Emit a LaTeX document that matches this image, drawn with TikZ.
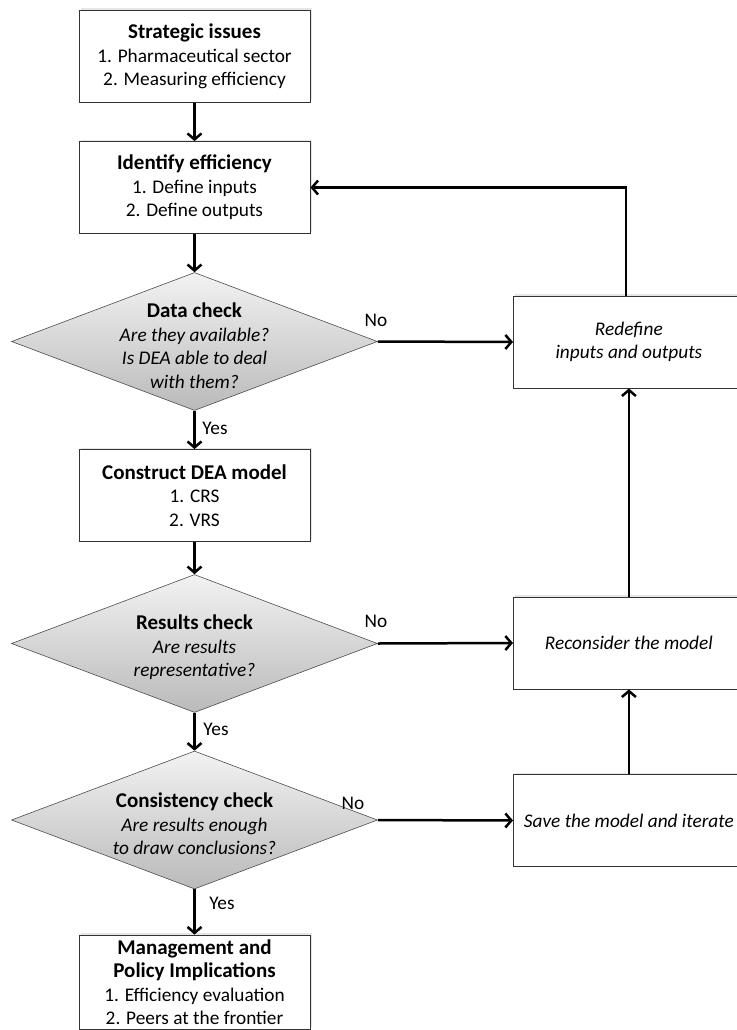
\documentclass[tikz,border=0pt]{standalone}
\usepackage{fontspec}
\setmainfont{Carlito}
\usetikzlibrary{shapes.geometric,arrows.meta,shadows}

\tikzset{
  box/.style={draw=black!80, line width=0.8pt, fill=white,
    minimum width=231pt, minimum height=92pt, inner sep=2pt, align=center,
    font=\fontsize{19.3}{23.5}\selectfont,
    drop shadow={shadow xshift=1.5pt, shadow yshift=2pt, opacity=0.2}},
  rbox/.style={box, minimum width=300pt, anchor=west},
  rtext/.style={align=center, font=\fontsize{19.3}{23.5}\selectfont\itshape, xshift=-34.5pt},
  check/.style={diamond, draw=black!70, line width=0.6pt,
    top color=black!5, bottom color=black!27,
    minimum width=366pt, minimum height=138pt, inner sep=0pt},
  checktext/.style={align=center, font=\fontsize{19.3}{23.5}\selectfont, inner sep=0pt, yshift=-4pt},
  flow/.style={line width=2.5pt, -{Straight Barb[length=6pt,width=14pt]}},
  lbl/.style={font=\fontsize{19.3}{23.5}\selectfont, inner sep=0pt}
}
\newcommand{\ttl}[1]{{\fontsize{21}{23.5}\selectfont\bfseries #1}}

\begin{document}
\begin{tikzpicture}[x=1pt,y=-1pt]
        \useasboundingbox (0,0) rectangle (736,1030);
        % left column
        \node[box] (strat) at (194.5,56.5) {\ttl{Strategic issues}\\1. Pharmaceutical sector\\2. Measuring efficiency};
        \node[box] (ident) at (194.5,187.5) {\ttl{Identify efficiency}\\1. Define inputs\\2. Define outputs};
        \node[check, label={[checktext]center:{\ttl{Data check}\\\itshape Are they available?\\\itshape Is DEA able to deal\\\itshape with them?}}] (data) at (194.5,341.5) {};
        \node[box] (constr) at (194.5,495.5) {\ttl{Construct DEA model}\\1. CRS\\2. VRS};
        \node[check, label={[checktext]center:{\ttl{Results check}\\\itshape Are results\\\itshape representative?}}] (res) at (194.5,643.5) {};
        \node[check, label={[checktext]center:{\ttl{Consistency check}\\\itshape Are results enough\\\itshape to draw conclusions?}}] (consist) at (194.5,820) {};
        \node[box, minimum height=94pt] (mgmt) at (194.5,982) {\ttl{Management and}\\\ttl{Policy Implications}\\1. Efficiency evaluation\\2. Peers at the frontier};
        % right column (cut by the right margin)
        \node[rbox, label={[rtext]center:{Redefine\\inputs and outputs}}] (redef) at (513,342) {};
        \node[rbox, label={[rtext]center:{Reconsider the model}}] (recons) at (513,643) {};
        \node[rbox, label={[rtext]center:{Save the model and iterate}}] (save) at (513,820.5) {};
        % main flow
        \draw[flow] (strat) -- (ident);
        \draw[flow] (ident) -- (data);
        \draw[flow] (data) -- (constr);
        \draw[flow] (constr) -- (res);
        \draw[flow] (res) -- (consist);
        \draw[flow] (consist) -- (mgmt);
        % feedback
        \draw[flow] (data.east) -- (redef.west);
        \draw[flow] (res.east) -- (recons.west);
        \draw[flow] (consist.east) -- (save.west);
        \draw[flow] ([xshift=-34.5pt]save.north) -- ([xshift=-34.5pt]recons.south);
        \draw[flow] ([xshift=-34.5pt]recons.north) -- ([xshift=-34.5pt]redef.south);
        \draw[flow] ([xshift=-37.5pt]redef.north) |- (ident.east);
        %  labels
        \node[lbl] (no1) at (376,320) {No};
        \node[lbl] (yes1) at (215,428) {Yes};
        \node[lbl] (no2) at (376,621) {No};
        \node[lbl] (yes2) at (216,729) {Yes};
        \node[lbl] (no3) at (353,803) {No};
        \node[lbl] (yes3) at (222,903) {Yes};
    \end{tikzpicture}
\end{document}
